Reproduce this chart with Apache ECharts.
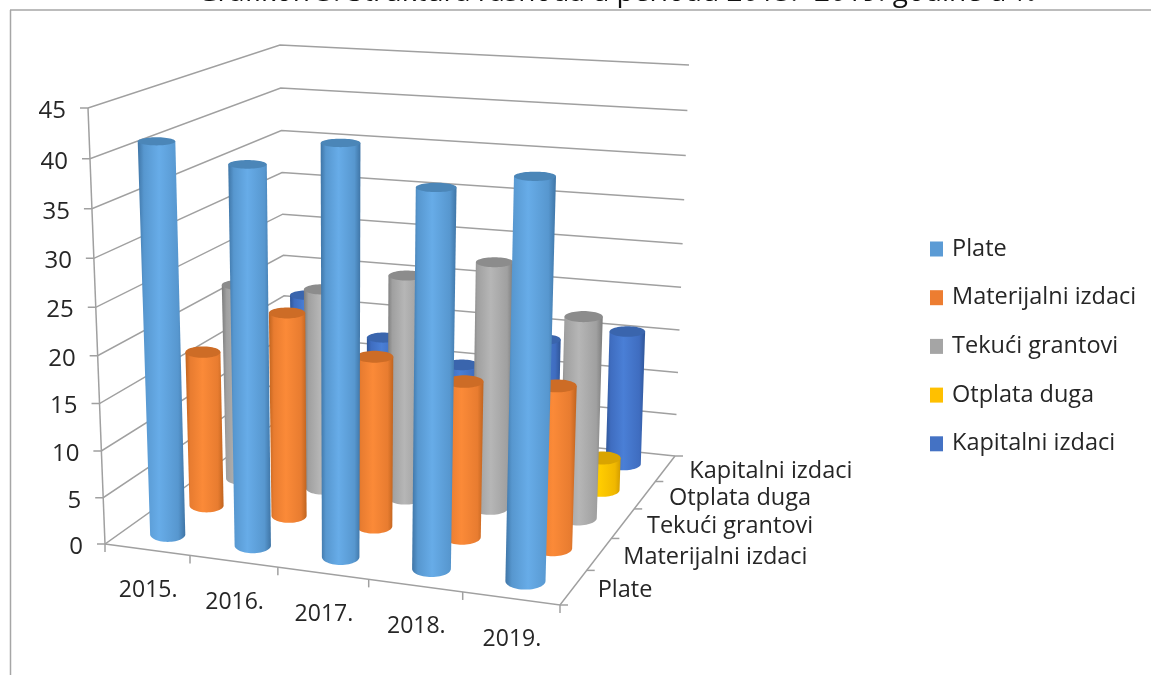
<!DOCTYPE html>
<html><head><meta charset="utf-8">
<script src="https://cdn.jsdelivr.net/npm/echarts@6/dist/echarts.min.js"></script>
<style>html,body{margin:0;padding:0;background:#fff}#c{width:1151px;height:675px}</style></head>
<body><div id="c"></div>
<script>
const titleText = 'Grafikon 3. Struktura rashoda u periodu 2015.- 2019. godine u %';
const years = ['2015.','2016.','2017.','2018.','2019.'];
const seriesNames = ['Plate','Materijalni izdaci','Tekući grantovi','Otplata duga','Kapitalni izdaci'];
const plate = [41.2,39.5,42.2,38.5,40.2];
const materijalni = [17.1,22.2,18.4,16.7,17.2];
const tekuci = [22.2,22.5,24.8,27,22];
const otplata = [0,0,0,0,3.7];
const kapitalni = [16.6,12.3,9.9,13.8,15.6];
const valueTicks = [0,5,10,15,20,25,30,35,40,45];
const seriesValues = [plate,materijalni,tekuci,otplata,kapitalni];
const baseColors = ['#5B9BD5','#ED7D31','#A5A5A5','#FFC000','#4472C4'];
const bodyColors = [
  ['#3f75a6','#5797cf','#67ace8'],
  ['#c0641f','#e87c30','#fb8a38'],
  ['#7c7c7c','#a0a0a0','#b6b6b6'],
  ['#d29c00','#f0b800','#ffcc00'],
  ['#2f5597','#3f6dc0','#4a7fd6']
];
const capColors = ['#4b86b8','#cd6c26','#8c8c8c','#d9a400','#3a65ad'];
const gridColor = '#a0a0a0', textColor = '#262626', fontFam = '"Open Sans"';

const floorQuad = [[105,544],[560,605],[675,456],[286,415]];
const topQuad   = [[88,108],[573,137],[689,65],[280,45]];
function homography(q){
  const [p0,p1,p2,p3]=q;
  const dx1=p1[0]-p2[0],dx2=p3[0]-p2[0],sx=p0[0]-p1[0]+p2[0]-p3[0];
  const dy1=p1[1]-p2[1],dy2=p3[1]-p2[1],sy=p0[1]-p1[1]+p2[1]-p3[1];
  const det=dx1*dy2-dx2*dy1;
  const g=(sx*dy2-dx2*sy)/det,h=(dx1*sy-sx*dy1)/det;
  const a=p1[0]-p0[0]+g*p1[0],b=p3[0]-p0[0]+h*p3[0],c=p0[0];
  const d=p1[1]-p0[1]+g*p1[1],e=p3[1]-p0[1]+h*p3[1],f=p0[1];
  return (u,w)=>{const n=g*u+h*w+1;return [(a*u+b*w+c)/n,(d*u+e*w+f)/n];};
}
const HF=homography(floorQuad),HT=homography(topQuad);
const persp=0.95;
function project(u,w,t){
  const a=HF(u/5,w/5),b=HT(u/5,w/5);
  const s=persp*t/(1+(persp-1)*t);
  return [a[0]+(b[0]-a[0])*s,a[1]+(b[1]-a[1])*s];
}
function toBox(params,api,cat,val){
  const p=api.coord([cat,val]),cs=params.coordSys;
  return {u:(p[0]-cs.x)/cs.width*years.length,t:(cs.y+cs.height-p[1])/cs.height};
}
const R=0.21, RY=1.2;
function cylinderItem(j){
  return function(params,api){
    const i=api.value(0),v=api.value(1);
    if(!v) return null;
    const b=toBox(params,api,i,v),u=b.u,w=j+0.5,t=b.t;
    function ring(tt){
      const c=project(u,w,tt),l=project(u-R,w,tt),r=project(u+R,w,tt),
            f=project(u,w-R,tt),k=project(u,w+R,tt);
      return {cx:c[0],cy:c[1],rx:(r[0]-l[0])/2,ry:Math.abs(f[1]-k[1])/2*RY};
    }
    const top=ring(t),bot=ring(0),N=28,pts=[],capPts=[];
    pts.push([top.cx-top.rx,top.cy]);
    for(let n=0;n<=N;n++){const a=Math.PI-n/N*Math.PI;pts.push([bot.cx+bot.rx*Math.cos(a),bot.cy+bot.ry*Math.sin(a)]);}
    pts.push([top.cx+top.rx,top.cy]);
    for(let n=0;n<2*N;n++){const a=n/N*Math.PI;capPts.push([top.cx+top.rx*Math.cos(a),top.cy+top.ry*Math.sin(a)]);}
    const cols=bodyColors[j];
    return {type:'group',children:[
      {type:'polygon',shape:{points:pts},style:{fill:new echarts.graphic.LinearGradient(0,0,1,0,[
        {offset:0,color:cols[0]},{offset:0.13,color:cols[1]},{offset:0.45,color:cols[2]},{offset:0.85,color:cols[1]},{offset:1,color:cols[0]}])}},
      {type:'polygon',shape:{points:capPts},style:{fill:capColors[j]}}
    ]};
  };
}
function wallItem(params,api){
  const v=api.value(0),b=toBox(params,api,0,v),t=b.t;
  const fl=project(0,0,t),bl=project(0,5,t),br=project(5,5,t);
  return {type:'polyline',shape:{points:[[fl[0]-8,fl[1]],fl,bl,br]},style:{fill:null,stroke:gridColor,lineWidth:1.5}};
}
function frameItem(params,api){
  const idx=api.value(0),ls={stroke:gridColor,lineWidth:1.5,fill:null};
  const a=project(idx,0,0),c=project(5,idx,0);
  const kids=[
    {type:'line',shape:{x1:a[0],y1:a[1],x2:a[0],y2:a[1]+8},style:ls},
    {type:'line',shape:{x1:c[0],y1:c[1],x2:c[0]+8,y2:c[1]},style:ls}
  ];
  if(idx===0){
    const fl=project(0,0,0),fr=project(5,0,0),br=project(5,5,0),ft=project(0,0,1);
    kids.push({type:'polyline',shape:{points:[fl,fr,br]},style:ls});
    kids.push({type:'line',shape:{x1:fl[0],y1:fl[1],x2:ft[0],y2:ft[1]},style:ls});
  }
  return {type:'group',children:kids};
}
function valueLabelItem(params,api){
  const v=api.value(0),b=toBox(params,api,0,v),p=project(0,0,b.t);
  return {type:'text',style:{text:String(valueTicks[params.dataIndex]),x:p[0]-22,y:p[1]+3,textAlign:'right',textVerticalAlign:'middle',fill:textColor,font:'24px '+fontFam}};
}
function yearLabelItem(params,api){
  const i=api.value(0),b=toBox(params,api,i,0),p=project(b.u,0,0);
  return {type:'text',style:{text:years[i],x:p[0]+1,y:p[1]+41,textAlign:'center',textVerticalAlign:'middle',fill:textColor,font:'23px '+fontFam}};
}
function depthLabelItem(params,api){
  const j=api.value(0),p=project(5,j+0.5,0);
  return {type:'text',style:{text:seriesNames[j],x:p[0]+24,y:p[1]+3,textAlign:'left',textVerticalAlign:'middle',fill:textColor,font:'23.5px '+fontFam}};
}
const common={type:'custom',coordinateSystem:'cartesian2d',silent:true,animation:false,clip:false,legendHoverLink:false,tooltip:{show:false}};
const idx=years.map((_,i)=>[i]);
const series=[
  Object.assign({},common,{name:'_walls',z:1,data:valueTicks.map(v=>[v]),renderItem:wallItem}),
  Object.assign({},common,{name:'_frame',z:1,data:[0,1,2,3,4,5].map(v=>[v]),renderItem:frameItem}),
  Object.assign({},common,{name:'_vlabels',z:20,data:valueTicks.map(v=>[v]),renderItem:valueLabelItem}),
  Object.assign({},common,{name:'_ylabels',z:20,data:idx,renderItem:yearLabelItem}),
  Object.assign({},common,{name:'_dlabels',z:20,data:seriesNames.map((_,j)=>[j]),renderItem:depthLabelItem})
];
seriesNames.forEach((n,j)=>{
  series.push(Object.assign({},common,{name:n,z:10-j,itemStyle:{color:baseColors[j]},
    data:seriesValues[j].map((v,i)=>[i,v]),renderItem:cylinderItem(j)}));
});
const option={
  backgroundColor:'#fff',animation:false,
  title:{text:titleText,left:612,textAlign:'center',top:-26,textStyle:{fontFamily:'Open Sans',fontSize:28,fontWeight:'normal',color:'#111'}},
  grid:{left:100,top:100,width:500,height:400,show:false},
  xAxis:{type:'category',data:years,show:false},
  yAxis:{type:'value',min:0,max:45,interval:5,show:false},
  legend:{data:seriesNames,orient:'vertical',left:925,top:232,icon:'rect',itemWidth:13,itemHeight:15,itemGap:24.7,
    selectedMode:false,textStyle:{fontFamily:'Open Sans',fontSize:23.5,color:textColor,padding:[0,0,0,4]}},
  graphic:[
    {type:'line',shape:{x1:10,y1:10,x2:1151,y2:10},style:{stroke:'#a6a6a6',lineWidth:1.5},silent:true},
    {type:'line',shape:{x1:10.5,y1:10,x2:10.5,y2:675},style:{stroke:'#a6a6a6',lineWidth:1.5},silent:true}
  ],
  series
};
echarts.init(document.getElementById('c'),null,{renderer:'canvas'}).setOption(option);
</script></body></html>
